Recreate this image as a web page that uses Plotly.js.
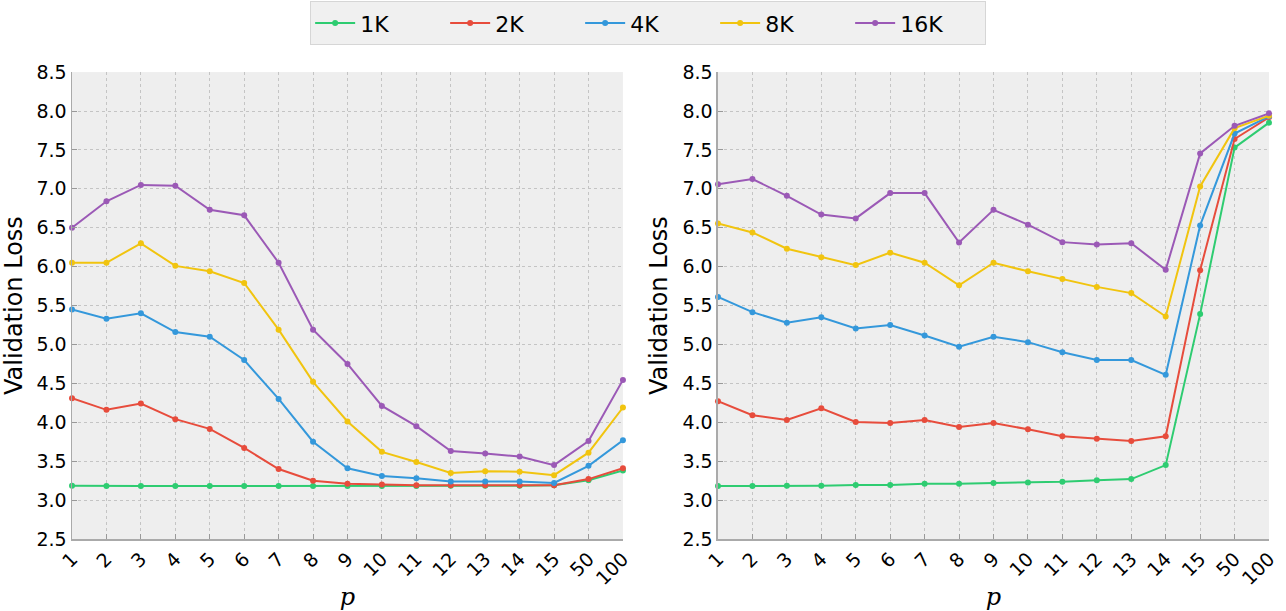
<!DOCTYPE html>
<html>
<head>
<meta charset="utf-8">
<script src="https://cdn.plot.ly/plotly-3.0.1.min.js"></script>
<style>html,body{margin:0;padding:0;background:#fff;}#chart{width:1286px;height:611px;}</style>
</head>
<body>
<div id="chart"></div>
<script>
const categories = ["1","2","3","4","5","6","7","8","9","10","11","12","13","14","15","50","100"];
const seriesNames = ["1K","2K","4K","8K","16K"];
const seriesColors = ["#2ecc71","#e74c3c","#3498db","#f1c40f","#9b59b6"];

// Left panel
const left1K  = [3.185,3.18,3.18,3.18,3.18,3.18,3.18,3.18,3.18,3.18,3.18,3.185,3.185,3.185,3.19,3.255,3.38];
const left2K  = [4.31,4.16,4.24,4.04,3.915,3.67,3.40,3.25,3.21,3.20,3.19,3.19,3.19,3.19,3.19,3.27,3.41];
const left4K  = [5.45,5.33,5.40,5.16,5.10,4.80,4.30,3.75,3.41,3.31,3.28,3.24,3.24,3.24,3.22,3.44,3.77];
const left8K  = [6.05,6.05,6.30,6.01,5.94,5.79,5.19,4.52,4.01,3.62,3.49,3.35,3.37,3.365,3.32,3.61,4.19];
const left16K = [6.50,6.84,7.05,7.04,6.73,6.66,6.05,5.19,4.75,4.21,3.95,3.63,3.60,3.56,3.45,3.76,4.545];

// Right panel
const right1K  = [3.18,3.18,3.185,3.185,3.195,3.195,3.21,3.21,3.22,3.225,3.235,3.255,3.27,3.45,5.39,7.53,7.85];
const right2K  = [4.27,4.09,4.03,4.18,4.005,3.99,4.03,3.94,3.99,3.91,3.82,3.79,3.76,3.82,5.955,7.64,7.92];
const right4K  = [5.61,5.415,5.28,5.35,5.205,5.25,5.115,4.97,5.10,5.03,4.90,4.80,4.80,4.61,6.53,7.71,7.93];
const right8K  = [6.555,6.44,6.23,6.12,6.02,6.18,6.05,5.76,6.05,5.94,5.84,5.74,5.66,5.36,7.03,7.78,7.94];
const right16K = [7.06,7.125,6.91,6.67,6.62,6.945,6.945,6.31,6.73,6.54,6.315,6.285,6.30,5.96,7.455,7.81,7.97];

const yTicks = [2.5,3.0,3.5,4.0,4.5,5.0,5.5,6.0,6.5,7.0,7.5,8.0,8.5];
const yTickText = ["2.5","3.0","3.5","4.0","4.5","5.0","5.5","6.0","6.5","7.0","7.5","8.0","8.5"];

const leftData = [left1K,left2K,left4K,left8K,left16K];
const rightData = [right1K,right2K,right4K,right8K,right16K];

const traces = [];
leftData.forEach((ys,i)=>{
  traces.push({x:categories,y:ys,type:'scatter',mode:'lines+markers',name:seriesNames[i],
    line:{color:seriesColors[i],width:2},marker:{color:seriesColors[i],size:6},
    xaxis:'x',yaxis:'y',cliponaxis:false,showlegend:true,legendgroup:seriesNames[i]});
});
rightData.forEach((ys,i)=>{
  traces.push({x:categories,y:ys,type:'scatter',mode:'lines+markers',name:seriesNames[i],
    line:{color:seriesColors[i],width:2},marker:{color:seriesColors[i],size:6},
    xaxis:'x2',yaxis:'y2',cliponaxis:false,showlegend:false,legendgroup:seriesNames[i]});
});

const fontFam = "DejaVu Sans, sans-serif";
function xAxis(domain, anchor){
  return {domain:domain, anchor:anchor, type:'category', categoryorder:'array', categoryarray:categories,
    range:[0,categories.length-1], tickangle:-45, tickfont:{size:19,family:fontFam,color:'#000'},
    showgrid:true, gridcolor:'#c4c4c4', griddash:'dot', gridwidth:1,
    showline:true, linecolor:'#aaaaaa', linewidth:1.5, ticks:'inside', ticklen:5, tickcolor:'#999',
    zeroline:false, mirror:false,
    title:{text:'<i>p</i>', font:{size:24,family:'DejaVu Serif, serif',color:'#000'}, standoff:14}};
}
function yAxis(domain, anchor){
  return {domain:domain, anchor:anchor, range:[2.5,8.5], tickvals:yTicks, ticktext:yTickText,
    tickfont:{size:19,family:fontFam,color:'#000'},
    showgrid:true, gridcolor:'#c4c4c4', griddash:'dot', gridwidth:1,
    showline:true, linecolor:'#aaaaaa', linewidth:1.5, ticks:'inside', ticklen:5, tickcolor:'#999',
    zeroline:false,
    title:{text:'Validation Loss', font:{size:24,family:fontFam,color:'#000'}, standoff:8}};
}

const layout = {
  width:1286, height:611,
  margin:{l:0,r:0,t:0,b:0},
  paper_bgcolor:'#ffffff', plot_bgcolor:'#eeeeee',
  showlegend:true,
  legend:{orientation:'h', x:0.504, xanchor:'center', y:0.998, yanchor:'top',
    bgcolor:'#f0f0f0', bordercolor:'#d6d6d6', borderwidth:1,
    font:{size:22,family:fontFam,color:'#000'}, itemwidth:40, entrywidth:80, entrywidthmode:'pixels'},
  xaxis: xAxis([0.056,0.4844],'y'),
  yaxis: yAxis([0.1178,0.882],'x'),
  xaxis2: xAxis([0.5583,0.9868],'y2'),
  yaxis2: yAxis([0.1178,0.882],'x2')
};

Plotly.newPlot('chart', traces, layout, {displayModeBar:false, staticPlot:true});
</script>
</body>
</html>
